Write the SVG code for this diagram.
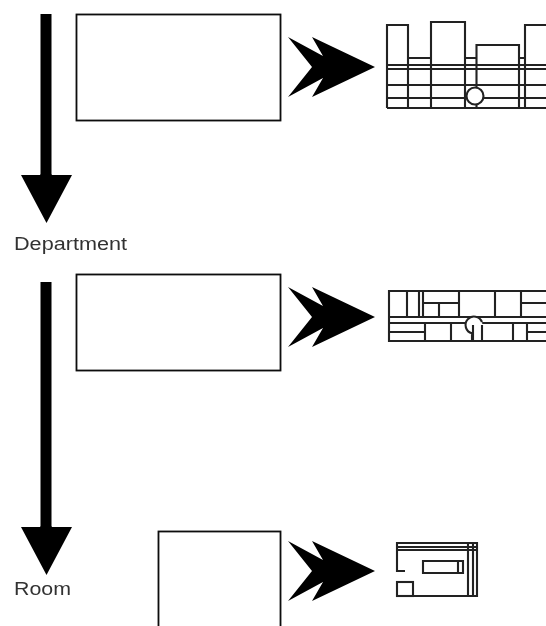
<svg xmlns="http://www.w3.org/2000/svg" width="546" height="626" viewBox="0 0 546 626">
<style>
.box{fill:#fff;stroke:#111;stroke-width:1.8}
.plan{fill:none;stroke:#222;stroke-width:2.1}
.solid{fill:#000}
text{font-family:"Liberation Sans",Arial,sans-serif;font-size:17.5px;fill:#333}
</style>
<defs>
<filter id="soft" x="-5%" y="-5%" width="110%" height="110%"><feGaussianBlur stdDeviation="0.6"/></filter>
<polygon id="chev" points="288,-30 312,0 288,30 323,11 312,30 375,0 312,-30 323,-11"/>
<polygon id="down" points="40.500,0 51.500,0 51.500,1 72,1 46.500,49 21,1 40.500,1"/>
</defs>
<rect width="546" height="626" fill="#fff"/>
<g filter="url(#soft)">
<g id="connectors" class="solid">
<rect x="40.500" y="14" width="11" height="162"/>
<use href="#down" y="174"/>
<rect x="40.500" y="282" width="11" height="246"/>
<use href="#down" y="526"/>
<use href="#chev" y="67"/>
<use href="#chev" y="317"/>
<use href="#chev" y="571"/>
</g>
<g id="node-box-1"><rect class="box" x="76.500" y="14.500" width="204" height="106"/></g>
<g id="node-box-2"><rect class="box" x="76.500" y="274.500" width="204" height="96"/></g>
<g id="node-box-3"><rect class="box" x="158.500" y="531.500" width="122" height="96"/></g>
<g id="node-plan-1"><path class="plan" d="M387 108V25H408V108M408 58H431M431 108V22H465V108M465 58H476.500M476.500 108V45H519V108M519 58H525M525 108V25H546M387 65H546M387 69H546M387 85H546M387 98H546M387 108H546"/><circle class="plan" cx="475" cy="96" r="8.500" style="fill:#fff"/></g>
<g id="node-plan-2"><path class="plan" d="M546 291H389V341H546M389 317H546M389 323H546M407 291V317M419 291V317M423 291V317M459 291V317M495 291V317M521 291V317M423 303H459M439 303V317M521 303H546M389 332H425M425 323V341M451 323V341M513 323V341M527 323V341M527 332H546"/><circle cx="474" cy="325" r="8.500" fill="#fff"/><path class="plan" d="M472 333.300A8.500 8.500 0 1 1 482 322M472 333V341M473 325V341M482 325V341"/></g>
<g id="node-plan-3"><path class="plan" d="M405 571H397V543H477V596H413M397 547H477M397 550H477M468 543V596M473 543V596M423 561H463V573H423ZM458 561V573"/><rect class="plan" x="397" y="582" width="16" height="14"/></g>
<g id="label-department"><text x="14" y="250" textLength="113" lengthAdjust="spacingAndGlyphs">Department</text></g>
<g id="label-room"><text x="14" y="595" textLength="57" lengthAdjust="spacingAndGlyphs">Room</text></g>
</g>
</svg>
